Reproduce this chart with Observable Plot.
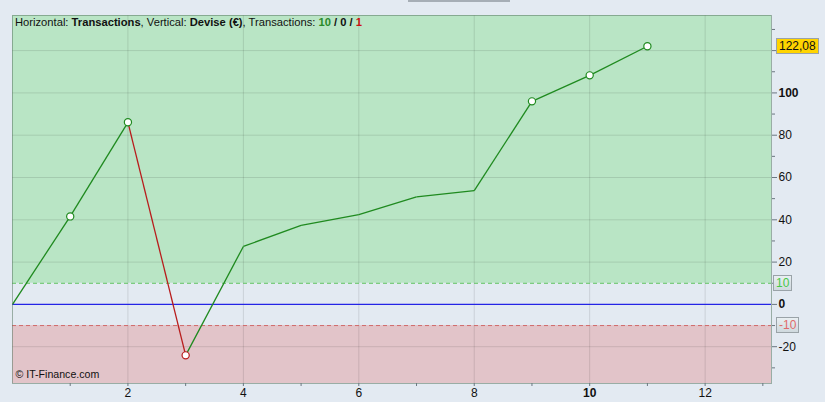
<!DOCTYPE html>
<html>
<head>
<meta charset="utf-8">
<script src="https://cdn.jsdelivr.net/npm/d3@7"></script>
<script src="https://cdn.jsdelivr.net/npm/@observablehq/plot@0.6"></script>
<style>
  html, body { margin: 0; padding: 0; background: #e3eaf2; }
  body { width: 825px; height: 402px; overflow: hidden; position: relative; font-family: "Liberation Sans", Arial, sans-serif; }
  #chart { position: absolute; left: 0; top: 0; }
  .hdr { position: absolute; left: 15px; top: 16px; font-size: 11.2px; color: #111; white-space: nowrap; }
  .tab { position: absolute; left: 408px; top: 0; width: 102px; height: 2px; background: #a6aeb6; }
  .box { position: absolute; font-size: 12px; line-height: 14px; padding: 0 2px; border: 1px solid #9aa3a8; white-space: nowrap; }
</style>
</head>
<body>
<div class="tab"></div>
<div id="chart"></div>
<div class="hdr">Horizontal: <b>Transactions</b>, Vertical: <b>Devise (€)</b>, Transactions: <b style="color:#2a8a2a">10</b> <b>/ 0 /</b> <b style="color:#cc1111">1</b></div>
<script>
// ---- data ----
const trades = [0, 1, 2, 3, 4, 5, 6, 7, 8, 9, 10, 11];
const equity = [0, 41.6, 86.1, -24.1, 27.4, 37.4, 42.4, 50.8, 53.8, 96, 108.3, 122.08];
const markedTrades = [1, 2, 3, 9, 10, 11];
const lastValueLabel = "122,08";
const upperThreshold = 10;
const lowerThreshold = -10;
const xDomain = [0, 13.15];
const yDomain = [-37.4, 136.6];
const xLabelTicks = [2, 4, 6, 8, 12];
const xBoldTicks = [10];
const xMinorTicks = [1, 2, 3, 4, 5, 6, 7, 8, 9, 10, 11, 12, 13];
const xGrid = [2, 4, 6, 8, 10, 12];
const yLabelTicks = [-20, 20, 40, 60, 80];
const yBoldTicks = [0, 100];
const yMajorTicks = [-20, 0, 20, 40, 60, 80, 100, 120];
const yMinorTicks = [-30, -10, 10, 30, 50, 70, 90, 110, 130];
const yGrid = [-20, 20, 40, 60, 80, 100, 120];

// ---- colours ----
const GREEN = "#1f8a1f", RED = "#b81c1c";

const points = trades.map((t, i) => ({t, v: equity[i]}));
const segments = points.slice(1).map((p, i) => ({
  x1: points[i].t, y1: points[i].v, x2: p.t, y2: p.v, up: p.v >= points[i].v
}));
const markers = points.filter(p => markedTrades.includes(p.t)).map(p => {
  const i = trades.indexOf(p.t);
  return {...p, up: equity[i] >= equity[i - 1]};
});
const zones = [
  {lo: upperThreshold, hi: yDomain[1], fill: "#b9e5c5"},
  {lo: yDomain[0], hi: lowerThreshold, fill: "#e2c4c9"}
];

const chart = Plot.plot({
  width: 825, height: 402,
  marginLeft: 12, marginRight: 54, marginTop: 15, marginBottom: 19,
  style: {background: "transparent", fontFamily: "'Liberation Sans', Arial, sans-serif", fontSize: "12px", color: "#111"},
  x: {domain: xDomain, axis: null},
  y: {domain: yDomain, axis: null},
  marks: [
    Plot.rectY(zones, {x1: () => xDomain[0], x2: () => xDomain[1], y1: "lo", y2: "hi", fill: d => d.fill}),
    Plot.ruleY(yGrid, {stroke: "#000", strokeOpacity: 0.11}),
    Plot.ruleX(xGrid, {stroke: "#000", strokeOpacity: 0.11}),
    Plot.ruleY([upperThreshold], {stroke: "#5cc25c", strokeDasharray: "4,3"}),
    Plot.ruleY([lowerThreshold], {stroke: "#d06a6a", strokeDasharray: "4,3"}),
    Plot.ruleY([0], {stroke: "#2424e6", strokeWidth: 1.2}),
    Plot.link(segments, {x1: "x1", y1: "y1", x2: "x2", y2: "y2", stroke: d => d.up ? GREEN : RED, strokeWidth: 1.3}),
    Plot.dot(markers, {x: "t", y: "v", r: 3.6, fill: "white", stroke: d => d.up ? GREEN : RED, strokeWidth: 1.2}),
    Plot.frame({stroke: "#5d7a66", strokeOpacity: 0.55}),
    Plot.axisX(xMinorTicks, {tickSize: 3, tickFormat: () => "", stroke: "#6b7780", label: null}),
    Plot.axisY(yMajorTicks, {anchor: "right", tickSize: 5, tickFormat: () => "", stroke: "#6b7780", label: null}),
    Plot.axisY(yMinorTicks, {anchor: "right", tickSize: 3, tickFormat: () => "", stroke: "#6b7780", label: null}),
    Plot.text(xLabelTicks, {x: d => d, frameAnchor: "bottom", dy: 13, fontSize: 12, fill: "#111"}),
    Plot.text(xBoldTicks, {x: d => d, frameAnchor: "bottom", dy: 13, fontSize: 12, fontWeight: "bold", fill: "#111"}),
    Plot.text(yLabelTicks, {y: d => d, frameAnchor: "right", dx: 7, textAnchor: "start", fontSize: 12, fill: "#111"}),
    Plot.text(yBoldTicks, {y: d => d, frameAnchor: "right", dx: 7, textAnchor: "start", fontSize: 12, fontWeight: "bold", fill: "#111"}),
    Plot.text(["© IT-Finance.com"], {frameAnchor: "bottom-left", dx: 3, dy: -6, textAnchor: "start", fontSize: 10.6, fill: "#111"})
  ]
});
document.getElementById("chart").appendChild(chart);

// value boxes on the right axis, placed with the plot's own y scale
const yS = chart.scale("y");
const boxes = [
  {v: equity[equity.length - 1], text: lastValueLabel, left: 776, bg: "#ffd400", color: "#111"},
  {v: upperThreshold, text: String(upperThreshold), left: 773, bg: "linear-gradient(#e9eff2,#cfd9de)", color: "#46c846"},
  {v: lowerThreshold, text: String(lowerThreshold), left: 776, bg: "linear-gradient(#e9eff2,#cfd9de)", color: "#e06a6a"}
];
for (const b of boxes) {
  const el = document.createElement("div");
  el.className = "box";
  el.textContent = b.text;
  el.style.left = b.left + "px";
  el.style.top = (yS.apply(b.v) - 8) + "px";
  el.style.background = b.bg;
  el.style.color = b.color;
  document.body.appendChild(el);
}
</script>
</body>
</html>
